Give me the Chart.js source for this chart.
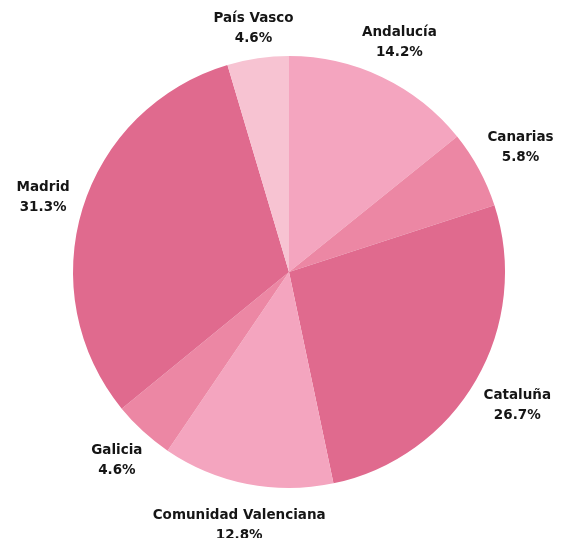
<!DOCTYPE html>
<html>
<head>
<meta charset="utf-8">
<script src="https://cdn.jsdelivr.net/npm/chart.js@4.4.0/dist/chart.umd.min.js"></script>
<style>
  html, body { margin: 0; padding: 0; background: #fff; }
  #wrap { width: 566px; height: 538px; }
</style>
</head>
<body>
<div id="wrap"><canvas id="myChart" width="566" height="538"></canvas></div>
<script>
// region names and share of total (%)
const regions = ["Andalucía", "Canarias", "Cataluña", "Comunidad Valenciana", "Galicia", "Madrid", "País Vasco"];
const shares = [14.2, 5.8, 26.7, 12.8, 4.6, 31.3, 4.6];
const sliceColors = ["#f4a5bf", "#ec87a4", "#e06a8e", "#f4a5bf", "#ec87a4", "#e06a8e", "#f7c3d2"];

// labels outside the pie, two lines: name + percent
const outsideLabels = {
  id: "outsideLabels",
  afterDatasetsDraw(chart) {
    const ctx = chart.ctx;
    const meta = chart.getDatasetMeta(0);
    ctx.save();
    ctx.font = "bold 13.5px 'DejaVu Sans'";
    ctx.fillStyle = "#151515";
    ctx.textAlign = "center";
    ctx.textBaseline = "middle";
    meta.data.forEach((arc, i) => {
      const mid = (arc.startAngle + arc.endAngle) / 2;
      const dx = Math.cos(mid);
      const dy = Math.sin(mid);
      const line1 = regions[i];
      const line2 = shares[i].toFixed(1) + "%";
      const halfW = Math.max(ctx.measureText(line1).width, ctx.measureText(line2).width) / 2;
      const halfH = 13;
      const shift = halfW * Math.abs(dx) + halfH * Math.abs(dy);
      const dist = arc.outerRadius + 12 + shift;
      const cx = arc.x + dx * dist;
      const cy = arc.y + dy * dist + 1;
      ctx.fillText(line1, cx, cy - 10);
      ctx.fillText(line2, cx, cy + 10);
    });
    ctx.restore();
  }
};

const config = {
  type: "pie",
  data: {
    labels: regions,
    datasets: [
      {
        data: shares,
        backgroundColor: sliceColors,
        borderWidth: 0,
      },
    ],
  },
  options: {
    responsive: false,
    animation: false,
    layout: {
      padding: { left: 73, right: 61, top: 56, bottom: 50 },
    },
    plugins: {
      legend: { display: false },
      tooltip: { enabled: false },
    },
  },
  plugins: [outsideLabels],
};

context = document.getElementById("myChart").getContext("2d");
chart = new Chart(context, config);
</script>
</body>
</html>
